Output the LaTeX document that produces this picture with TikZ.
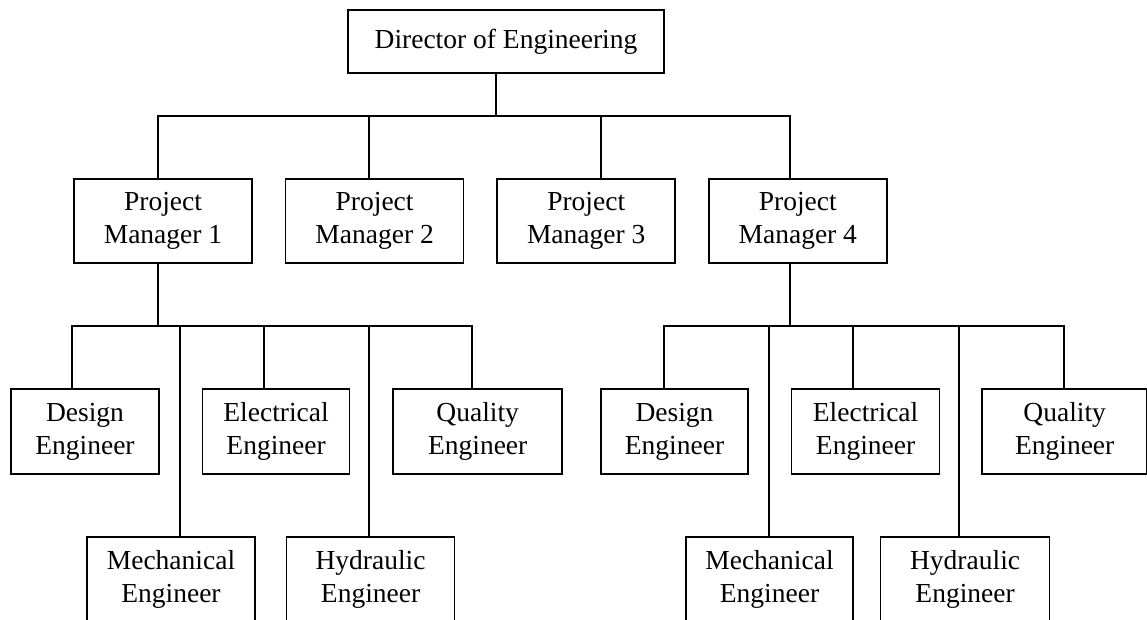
\documentclass[tikz,border=0pt]{standalone}
\usepackage{fontspec}
\setmainfont{Liberation Serif}
\usetikzlibrary{positioning}

\begin{document}
\begin{tikzpicture}[x=1pt,y=-1pt,line width=1.6pt,
    box node/.style={rectangle,draw,inner sep=0pt,align=center,minimum height=84pt,font=\fontsize{27.5}{33}\selectfont},
    pm node/.style={box node,minimum width=178pt}, eng node/.style={box node,minimum height=85pt}]

  \clip (0,0) rectangle (1147,620);

  \node[box node,minimum width=316pt,minimum height=63pt] (dir) at (506,41.5) {Director of Engineering};

  \node[pm node] (pmA) at (163,221) {Project\\Manager 1};
  \node[pm node] (pmB) [right=32pt of pmA] {Project\\Manager 2};
  \node[pm node] (pmC) [right=32pt of pmB] {Project\\Manager 3};
  \node[pm node] (pmD) [right=32pt of pmC] {Project\\Manager 4};

  \node[eng node,minimum width=148pt] (desA) at (85,431.5) {Design\\Engineer};
  \node[eng node,minimum width=147pt] (elA) [right=42pt of desA] {Electrical\\Engineer};
  \node[eng node,minimum width=169pt] (quA) [right=42pt of elA] {Quality\\Engineer};
  \node[eng node,minimum width=168pt] (meA) at (171,579.5) {Mechanical\\Engineer};
  \node[eng node,minimum width=168pt] (hyA) [right=30pt of meA] {Hydraulic\\Engineer};

  \node[eng node,minimum width=147pt] (desB) at (674.5,431.5) {Design\\Engineer};
  \node[eng node,minimum width=148pt] (elB) [right=42pt of desB] {Electrical\\Engineer};
  \node[eng node,minimum width=165pt] (quB) [right=41pt of elB] {Quality\\Engineer};
  \node[eng node,minimum width=167pt] (meB) at (769.5,579.5) {Mechanical\\Engineer};
  \node[eng node,minimum width=169pt] (hyB) [right=26pt of meB] {Hydraulic\\Engineer};

  % junctions on the buses
  \coordinate (jA) at (158,116);  \coordinate (jB) at (369,116);
  \coordinate (jC) at (601,116);  \coordinate (jD) at (790,116);
  \coordinate (kA) at (72,326);   \coordinate (kB) at (180,326);
  \coordinate (kC) at (264,326);  \coordinate (kD) at (369,326);
  \coordinate (kE) at (472,326);
  \coordinate (lA) at (664,326);  \coordinate (lB) at (769,326);
  \coordinate (lC) at (853,326);  \coordinate (lD) at (959,326);
  \coordinate (lE) at (1064,326);

  \draw ([xshift=-10pt]dir.south) -- ([xshift=-10pt]dir.south |- jA);
  \draw (jA |- pmA.north) -- (jA) -- (jD) -- (jD |- pmD.north);
  \foreach \j/\p in {jB/pmB,jC/pmC}
    \draw (\j) -- (\j |- \p.north);

  \draw (jA |- pmA.south) -- (jA |- kA);
  \draw (kA |- desA.north) -- (kA) -- (kE) -- (kE |- quA.north);
  \foreach \k/\n in {kB/meA,kC/elA,kD/hyA}
    \draw (\k) -- (\k |- \n.north);

  \draw (jD |- pmD.south) -- (jD |- lA);
  \draw (lA |- desB.north) -- (lA) -- (lE) -- (lE |- quB.north);
  \foreach \k/\n in {lB/meB,lC/elB,lD/hyB}
    \draw (\k) -- (\k |- \n.north);

\end{tikzpicture}
\end{document}
